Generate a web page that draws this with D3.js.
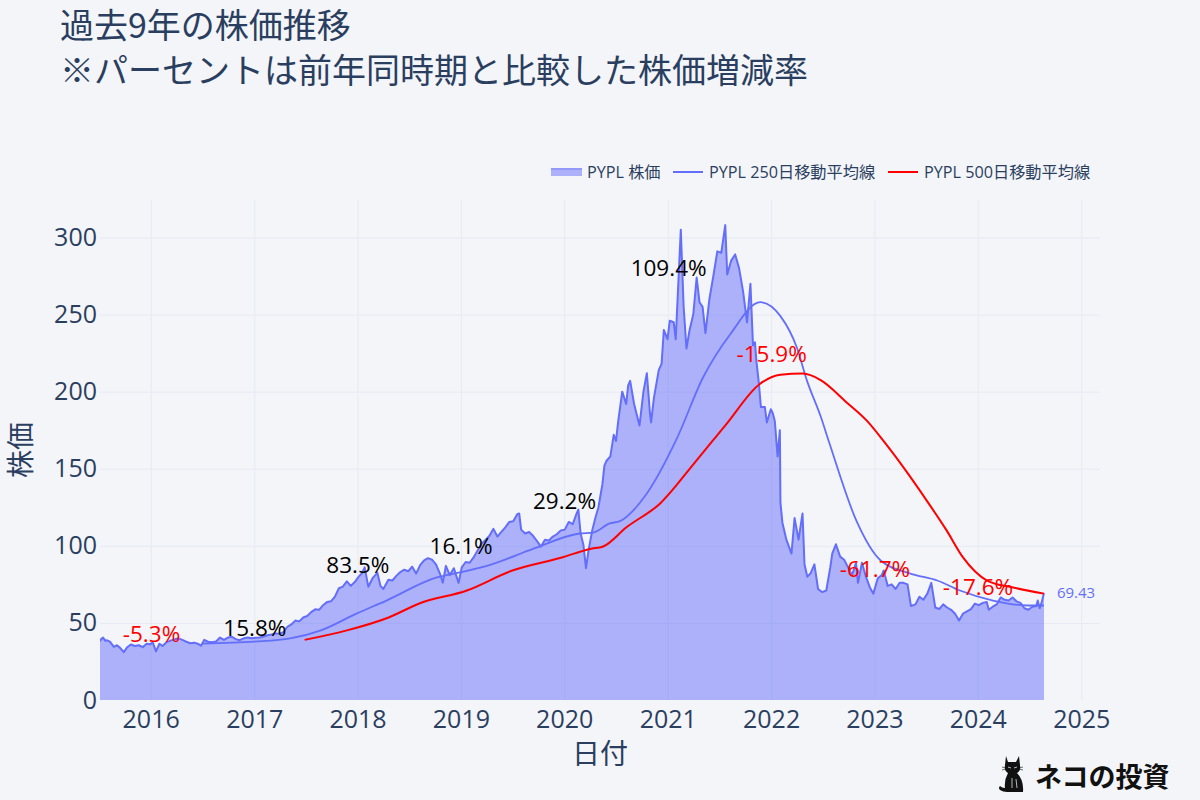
<!DOCTYPE html>
<html><head><meta charset="utf-8">
<script src="https://cdn.jsdelivr.net/npm/d3@7"></script>
<style>
html,body{margin:0;padding:0;background:#f4f5f9;}
svg{display:block;}
</style></head>
<body><svg id="chart" width="1200" height="800"></svg>
<script>
// ---------- DATA ----------
const priceDates = ["2015-07-06","2015-07-10","2015-07-17","2015-07-24","2015-07-31","2015-08-10","2015-08-24","2015-09-04","2015-09-15","2015-09-28","2015-10-09","2015-10-23","2015-11-06","2015-11-20","2015-12-04","2015-12-18","2015-12-31",
"2016-01-08","2016-01-20","2016-02-01","2016-02-12","2016-02-26","2016-03-11","2016-03-24","2016-04-08","2016-04-22","2016-05-06","2016-05-20","2016-06-03","2016-06-15","2016-06-27","2016-07-08","2016-07-22","2016-08-05","2016-08-19","2016-09-02","2016-09-16","2016-09-30","2016-10-14","2016-10-28","2016-11-10","2016-11-25","2016-12-09","2016-12-22",
"2017-01-06","2017-01-20","2017-02-03","2017-02-17","2017-03-03","2017-03-17","2017-03-31","2017-04-14","2017-04-28","2017-05-12","2017-05-26","2017-06-09","2017-06-23","2017-07-07","2017-07-21","2017-08-04","2017-08-18","2017-09-01","2017-09-15","2017-09-29","2017-10-13","2017-10-27","2017-11-10","2017-11-24","2017-12-08","2017-12-22",
"2018-01-05","2018-01-16","2018-01-26","2018-02-08","2018-02-23","2018-03-12","2018-03-23","2018-04-02","2018-04-20","2018-05-04","2018-05-18","2018-06-01","2018-06-15","2018-06-29","2018-07-13","2018-07-27","2018-08-10","2018-08-24","2018-09-07","2018-09-21","2018-10-05","2018-10-19","2018-10-29","2018-11-09","2018-11-23","2018-12-07","2018-12-24",
"2019-01-04","2019-01-18","2019-02-01","2019-02-15","2019-03-01","2019-03-15","2019-03-29","2019-04-12","2019-04-26","2019-05-10","2019-05-24","2019-06-07","2019-06-21","2019-07-05","2019-07-19","2019-07-26","2019-08-02","2019-08-16","2019-08-30","2019-09-13","2019-09-27","2019-10-11","2019-10-25","2019-11-08","2019-11-22","2019-12-06","2019-12-20",
"2020-01-03","2020-01-17","2020-01-31","2020-02-14","2020-02-20","2020-02-28","2020-03-09","2020-03-18","2020-03-27","2020-04-09","2020-04-20","2020-05-01","2020-05-15","2020-05-22","2020-05-29","2020-06-12","2020-06-24","2020-07-02","2020-07-10","2020-07-24","2020-08-07","2020-08-14","2020-08-21","2020-09-04","2020-09-23","2020-10-07","2020-10-19","2020-10-30","2020-11-03","2020-11-13","2020-11-30","2020-12-10","2020-12-18","2020-12-31",
"2021-01-08","2021-01-22","2021-01-29","2021-02-16","2021-02-26","2021-03-08","2021-03-19","2021-04-01","2021-04-13","2021-04-23","2021-05-04","2021-05-14","2021-05-28","2021-06-11","2021-06-25","2021-07-09","2021-07-23","2021-07-30","2021-08-13","2021-08-27","2021-09-10","2021-09-24","2021-10-08","2021-10-20","2021-10-29","2021-11-05","2021-11-10","2021-11-19","2021-11-26","2021-12-10","2021-12-17","2021-12-31",
"2022-01-07","2022-01-14","2022-01-24","2022-02-01","2022-02-03","2022-02-10","2022-02-24","2022-03-14","2022-03-25","2022-04-08","2022-04-22","2022-04-29","2022-05-09","2022-05-20","2022-06-03","2022-06-16","2022-06-30","2022-07-15","2022-07-29","2022-08-05","2022-08-18","2022-09-02","2022-09-16","2022-09-30","2022-10-14","2022-10-28","2022-11-04","2022-11-18","2022-12-02","2022-12-16","2022-12-28",
"2023-01-13","2023-01-27","2023-02-03","2023-02-17","2023-03-03","2023-03-17","2023-03-31","2023-04-14","2023-04-28","2023-05-10","2023-05-26","2023-06-09","2023-06-23","2023-07-07","2023-07-21","2023-08-04","2023-08-18","2023-09-01","2023-09-15","2023-09-29","2023-10-13","2023-10-27","2023-11-10","2023-11-24","2023-12-08","2023-12-22",
"2024-01-05","2024-01-19","2024-02-02","2024-02-09","2024-02-23","2024-03-08","2024-03-22","2024-04-05","2024-04-19","2024-05-03","2024-05-17","2024-05-31","2024-06-14","2024-06-28","2024-07-12","2024-07-26","2024-07-31","2024-08-07","2024-08-15","2024-08-22"];
const priceValues = [38.0,39.5,40.5,38.5,38.7,37.8,34.5,35.5,33.8,31.0,34.0,36.0,35.0,35.5,34.3,36.5,36.2,
37.5,31.5,36.5,35.0,37.5,38.5,39.2,40.0,39.0,37.8,36.8,37.2,36.5,35.2,39.0,37.8,37.5,38.0,40.5,39.0,40.5,41.0,39.5,38.8,40.0,40.5,40.0,
40.3,40.5,41.2,42.0,42.5,43.2,43.0,44.0,47.5,49.0,51.5,51.0,53.5,54.5,57.0,58.8,58.5,61.5,63.5,64.0,67.0,72.5,73.5,77.0,74.0,76.5,
80.0,82.0,86.0,73.5,79.0,82.5,74.0,72.0,78.0,77.5,80.5,83.0,84.5,83.5,86.5,82.0,87.5,90.5,92.0,91.0,88.0,82.0,76.0,87.0,81.0,85.5,76.0,
86.0,89.5,89.0,92.5,97.0,101.5,103.8,106.5,111.0,106.0,109.0,112.0,115.5,116.0,120.5,121.0,110.5,108.0,109.0,106.5,103.0,99.5,104.0,103.5,106.0,107.5,110.0,
110.5,115.5,114.0,121.0,123.5,108.0,100.5,85.5,97.0,110.0,118.0,125.0,140.0,152.0,155.0,158.0,172.0,168.0,181.0,200.0,192.0,204.0,207.0,192.0,178.0,200.0,212.0,186.0,180.0,196.0,214.0,218.0,240.0,234.0,
246.0,245.0,234.0,305.0,255.0,228.0,240.0,250.0,274.0,258.0,255.0,238.0,260.0,275.0,291.0,290.0,308.0,276.0,285.0,289.0,280.0,265.0,245.0,270.0,230.0,232.0,220.0,205.0,190.0,190.0,180.0,188.6,
186.0,181.0,158.0,175.0,128.0,115.0,104.0,95.0,118.0,104.0,121.0,88.0,80.0,82.0,88.0,72.0,70.0,71.0,86.0,95.0,101.0,93.0,91.0,86.0,81.0,89.0,76.0,89.0,80.0,73.0,69.0,
79.0,81.0,84.0,74.0,75.0,72.0,76.0,76.0,75.0,61.0,62.0,67.0,65.0,69.0,76.0,60.0,59.0,62.0,60.0,58.5,56.0,51.5,56.0,57.5,59.0,62.5,
61.5,63.0,63.5,58.5,60.5,62.0,66.5,65.0,64.5,66.5,64.0,63.0,59.5,58.5,60.5,61.0,64.5,59.5,64.0,69.43];

const ma250Dates = ["2016-07-01","2017-01-01","2017-05-08","2017-08-22","2017-12-28","2018-04-13","2018-10-08","2018-12-28","2019-04-20","2019-09-13","2020-02-24","2020-04-12","2020-06-10","2020-07-16","2020-10-19","2021-02-03","2021-05-05","2021-08-11","2021-11-24","2022-02-03","2022-04-02","2022-05-08","2022-06-25","2022-07-27","2022-10-30","2023-01-23","2023-05-08","2023-08-11","2023-10-30","2024-02-24","2024-06-24","2024-08-22"];
const ma250Values = [36.5,37.8,39.9,45.0,56.0,64.5,79.5,82.7,88.0,98.0,108.0,108.6,114.5,116.0,134.0,170.0,209.0,237.6,258.0,249.0,228.6,207.0,184.0,166.0,116.0,90.5,82.0,77.5,71.0,64.5,61.3,61.3];

const ma500Dates = ["2017-06-28","2017-11-21","2018-04-23","2018-08-07","2019-01-22","2019-07-02","2019-12-27","2020-04-01","2020-05-18","2020-08-08","2020-12-05","2021-04-02","2021-07-27","2021-11-22","2022-02-03","2022-04-23","2022-06-25","2022-09-25","2022-12-06","2023-02-02","2023-04-13","2023-07-06","2023-09-13","2023-11-10","2024-02-03","2024-05-05","2024-08-22"];
const ma500Values = [39.0,45.0,53.7,62.6,71.0,84.0,92.6,98.0,99.6,112.0,127.5,153.0,179.0,205.0,211.0,211.7,207.5,193.0,181.0,168.0,151.0,129.0,110.0,92.5,77.5,73.0,69.0];

const annDates = ["2016-01-04","2017-01-03","2018-01-02","2019-01-02","2020-01-02","2021-01-04","2022-01-03","2023-01-03","2024-01-02"];
const annLabels = ["-5.3%","15.8%","83.5%","16.1%","29.2%","109.4%","-15.9%","-61.7%","-17.6%"];
const annY = [42.5,46.4,87.2,99.6,128.8,280,224.6,84.8,73.0];

const yTicks = [0,50,100,150,200,250,300];
const xTickYears = [2016,2017,2018,2019,2020,2021,2022,2023,2024,2025];
const lastLabel = "69.43";

const legendLabels = ["PYPL 株価","PYPL 250日移動平均線","PYPL 500日移動平均線"];
const titleLines = ["過去9年の株価推移","※パーセントは前年同時期と比較した株価増減率"];

// ---------- LAYOUT ----------
const parse = d3.timeParse("%Y-%m-%d");
const svg = d3.select("#chart");
const W = 1200, H = 800;
const M = {left:100, right:100, top:200, bottom:100};
const pw = W - M.left - M.right, ph = H - M.top - M.bottom;
const FONT = "'Open Sans','Noto Sans CJK JP',sans-serif";
const CJK = "'Noto Sans CJK JP','Open Sans',sans-serif";
const TXT = "#2a3f5f";
const BLUE = "#636efa";

svg.append("rect").attr("width",W).attr("height",H).attr("fill","#f4f5f9");

const x = d3.scaleTime().domain([parse("2015-07-06"), parse("2025-03-08")]).range([M.left, M.left+pw]);
const y = d3.scaleLinear().domain([0, 324.3]).range([M.top+ph, M.top]);

const price = priceDates.map((d,i)=>({d:parse(d), v:priceValues[i]}));
const ma250 = ma250Dates.map((d,i)=>({d:parse(d), v:ma250Values[i]}));
const ma500 = ma500Dates.map((d,i)=>({d:parse(d), v:ma500Values[i]}));

// grid
const gx = svg.append("g").attr("transform",`translate(0,${M.top+ph})`)
  .call(d3.axisBottom(x).tickValues(xTickYears.map(yy=>new Date(yy,0,1))).tickSize(-ph).tickFormat(""));
gx.select(".domain").remove();
gx.selectAll("line").attr("stroke","#e6eaf2").attr("stroke-width",1);
const gy = svg.append("g").attr("transform",`translate(${M.left},0)`)
  .call(d3.axisLeft(y).tickValues(yTicks.filter(t=>t>0)).tickSize(-pw).tickFormat(""));
gy.select(".domain").remove();
gy.selectAll("line").attr("stroke","#e6eaf2").attr("stroke-width",1);

// clip
svg.append("clipPath").attr("id","clip").append("rect").attr("x",M.left).attr("y",M.top).attr("width",pw).attr("height",ph);
const plot = svg.append("g").attr("clip-path","url(#clip)");

plot.append("path").datum(price)
  .attr("d", d3.area().x(p=>x(p.d)).y0(y(0)).y1(p=>y(p.v)))
  .attr("fill","rgba(99,110,250,0.5)");
plot.append("path").datum(price)
  .attr("d", d3.line().x(p=>x(p.d)).y(p=>y(p.v)))
  .attr("fill","none").attr("stroke",BLUE).attr("stroke-width",2).attr("stroke-linejoin","round");
plot.append("path").datum(ma250)
  .attr("d", d3.line().curve(d3.curveMonotoneX).x(p=>x(p.d)).y(p=>y(p.v)))
  .attr("fill","none").attr("stroke",BLUE).attr("stroke-width",1.8);
plot.append("path").datum(ma500)
  .attr("d", d3.line().curve(d3.curveMonotoneX).x(p=>x(p.d)).y(p=>y(p.v)))
  .attr("fill","none").attr("stroke","red").attr("stroke-width",2);

// last value label
const lastP = price[price.length-1];
svg.append("text").attr("x", x(lastP.d)+13).attr("y", y(lastP.v)).attr("dy","0.35em")
  .attr("font-family",FONT).attr("font-size",15).attr("fill",BLUE).text(lastLabel);

// annotations
annDates.forEach((d,i)=>{
  svg.append("text").attr("x",x(parse(d))).attr("y",y(annY[i])).attr("dy","0.35em")
    .attr("text-anchor","middle").attr("font-family",FONT).attr("font-size",22.5)
    .attr("fill", annLabels[i].startsWith("-") ? "red" : "black").text(annLabels[i]);
});

// axes labels
const ax = svg.append("g").attr("transform",`translate(0,${M.top+ph})`)
  .call(d3.axisBottom(x).tickValues(xTickYears.map(yy=>new Date(yy,0,1))).tickSize(0).tickPadding(10).tickFormat(d3.timeFormat("%Y")));
ax.select(".domain").remove();
ax.selectAll("text").attr("font-family",FONT).attr("font-size",25).attr("fill",TXT);
const ay = svg.append("g").attr("transform",`translate(${M.left},0)`)
  .call(d3.axisLeft(y).tickValues(yTicks).tickSize(0).tickPadding(3));
ay.select(".domain").remove();
ay.selectAll("text").attr("font-family",FONT).attr("font-size",25).attr("fill",TXT);

svg.append("text").attr("x", M.left+pw/2).attr("y", 764).attr("text-anchor","middle")
  .attr("font-family",CJK).attr("font-size",28).attr("fill",TXT).text("日付");
svg.append("text").attr("transform",`translate(31,${M.top+ph/2}) rotate(-90)`).attr("text-anchor","middle")
  .attr("font-family",CJK).attr("font-size",28).attr("fill",TXT).text("株価");

// title
titleLines.forEach((t,i)=>{
  svg.append("text").attr("x",60).attr("y",38+i*45).attr("font-family",CJK).attr("font-size",34)
    .attr("fill",TXT).text(t);
});

// legend
const lg = svg.append("g");
const legX = [551, 673, 888];
const ly = 172;
lg.append("rect").attr("x",legX[0]).attr("y",ly-4).attr("width",31).attr("height",8).attr("fill","rgba(99,110,250,0.5)");
lg.append("line").attr("x1",legX[0]).attr("x2",legX[0]+31).attr("y1",ly-3).attr("y2",ly-3).attr("stroke",BLUE).attr("stroke-opacity",0.35).attr("stroke-width",2);
lg.append("line").attr("x1",legX[1]).attr("x2",legX[1]+30).attr("y1",ly).attr("y2",ly).attr("stroke",BLUE).attr("stroke-width",2);
lg.append("line").attr("x1",legX[2]).attr("x2",legX[2]+30).attr("y1",ly).attr("y2",ly).attr("stroke","red").attr("stroke-width",2);
legendLabels.forEach((t,i)=>{
  lg.append("text").attr("x",legX[i]+36).attr("y",ly).attr("dy","0.35em").attr("font-family",FONT)
    .attr("font-size",16.2).attr("fill",TXT).text(t);
});

// watermark
const cat = svg.append("g").attr("transform","translate(997,752)");
cat.append("path").attr("fill","#111")
  .attr("d","M9,4 L11,10 L19,10 L22,4 L23,13 Q24,19 20,21 Q27,28 26,40 L10,40 Q6,40 3,38 Q1,36 3,34 Q5,36 8,36 Q7,28 11,21 Q7,19 8,13 Z");
cat.append("path").attr("stroke","#fff").attr("stroke-width",0.7).attr("fill","none")
  .attr("d","M11,15 l3,1 M17,16 l3,-1 M15,26 l0,10 M19,27 l1,9");
cat.append("path").attr("stroke","#111").attr("stroke-width",0.6).attr("fill","none")
  .attr("d","M5,15 l4,1 M5,18 l4,-1 M26,15 l-4,1 M26,18 l-4,-1");
svg.append("text").attr("x",1035).attr("y",787).attr("font-family",CJK).attr("font-weight",700)
  .attr("font-size",27).attr("fill","#111").text("ネコの投資");
</script></body></html>
